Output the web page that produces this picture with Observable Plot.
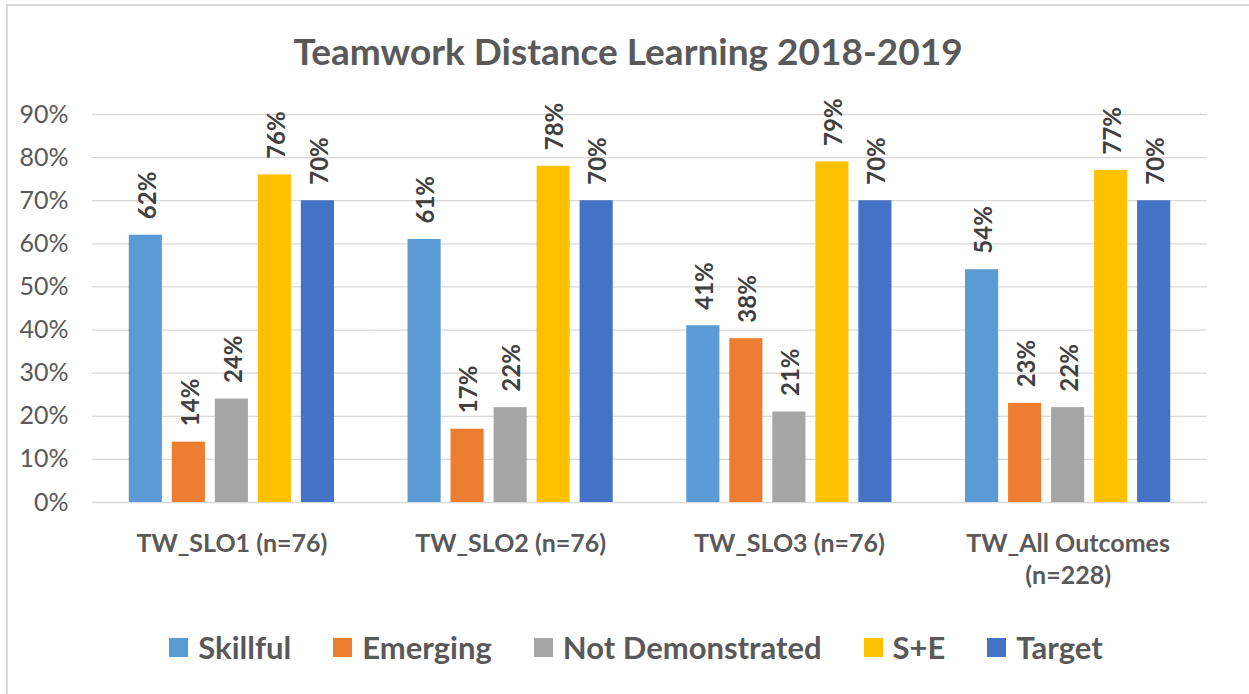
<!DOCTYPE html>
<html>
<head>
<meta charset="utf-8">
<script src="https://cdn.jsdelivr.net/npm/d3@7"></script>
<script src="https://cdn.jsdelivr.net/npm/@observablehq/plot@0.6"></script>
<style>
  html, body { margin: 0; padding: 0; background: #fff; overflow: hidden; }
  body { width: 1249px; height: 694px; position: relative; font-family: Lato, "Open Sans", sans-serif; }
  #frame { position: absolute; left: 6px; top: 4px; width: 1300px; height: 760px; border-left: 2px solid #d9d9d9; border-top: 2px solid #d9d9d9; }
  #title { position: absolute; left: 0; width: 1256px; top: 28px; text-align: center; font-size: 37px; font-weight: 700; color: #595959; }
  #chart { position: absolute; left: 0; top: 80px; }
  #legend { position: absolute; left: 0; width: 1272px; top: 628px; display: flex; justify-content: center; font-size: 31px; font-weight: 700; color: #595959; }
  .item { display: flex; align-items: center; margin: 0 21px; }
  .sw { width: 19px; height: 19px; margin-right: 10px; }
</style>
</head>
<body>
<div id="frame"></div>
<div id="title">Teamwork Distance Learning 2018-2019</div>
<div id="chart"></div>
<div id="legend"></div>
<script>
const groups = ["TW_SLO1 (n=76)", "TW_SLO2 (n=76)", "TW_SLO3 (n=76)", "TW_All Outcomes\n(n=228)"];
const series = ["Skillful", "Emerging", "Not Demonstrated", "S+E", "Target"];
const colors = ["#5B9BD5", "#ED7D31", "#A5A5A5", "#FFC000", "#4472C4"];
const skillful = [62, 61, 41, 54];
const emerging = [14, 17, 38, 23];
const notDemonstrated = [24, 22, 21, 22];
const sPlusE = [76, 78, 79, 77];
const target = [70, 70, 70, 70];
const yTicks = [0, 10, 20, 30, 40, 50, 60, 70, 80, 90];

const seriesValues = [skillful, emerging, notDemonstrated, sPlusE, target];
const data = [];
groups.forEach((g, gi) => {
  series.forEach((s, si) => {
    data.push({group: g, series: s, value: seriesValues[si][gi]});
  });
});

const chart = Plot.plot({
  width: 1249,
  height: 520,
  marginTop: 34,
  marginBottom: 98,
  marginLeft: 92,
  marginRight: 42,
  style: {fontFamily: "Lato, 'Open Sans', sans-serif", background: "transparent"},
  fx: {domain: groups, padding: 0, label: null, round: false},
  x: {domain: series, paddingInner: 0.23, paddingOuter: 0.855, axis: null, round: false},
  y: {domain: [0, 90], label: null},
  color: {domain: series, range: colors},
  marks: [
    Plot.ruleY(yTicks, {y: d => d, stroke: "#d9d9d9", strokeWidth: 1.3}),
    Plot.axisY({ticks: yTicks, tickFormat: d => d + "%", tickSize: 0, tickPadding: 24, label: null, fontSize: 25, fill: "#595959"}),
    Plot.axisFx({anchor: "bottom", tickSize: 0, tickPadding: 26, label: null, fontSize: 25, fontWeight: 700, fill: "#595959", lineHeight: 1.3}),
    Plot.barY(data, {fx: "group", x: "series", y: "value", fill: "series"}),
    Plot.text(data, {fx: "group", x: "series", y: "value", text: d => d.value + "%", rotate: -90, textAnchor: "start", lineAnchor: "middle", dy: -16, dx: 2, fontSize: 24, fontWeight: 700, fill: "#404040"})
  ]
});
document.getElementById("chart").appendChild(chart);

const legend = document.getElementById("legend");
series.forEach((s, i) => {
  const item = document.createElement("div");
  item.className = "item";
  const sw = document.createElement("span");
  sw.className = "sw";
  sw.style.background = colors[i];
  const t = document.createElement("span");
  t.textContent = s;
  item.appendChild(sw); item.appendChild(t);
  legend.appendChild(item);
});
</script>
</body>
</html>
